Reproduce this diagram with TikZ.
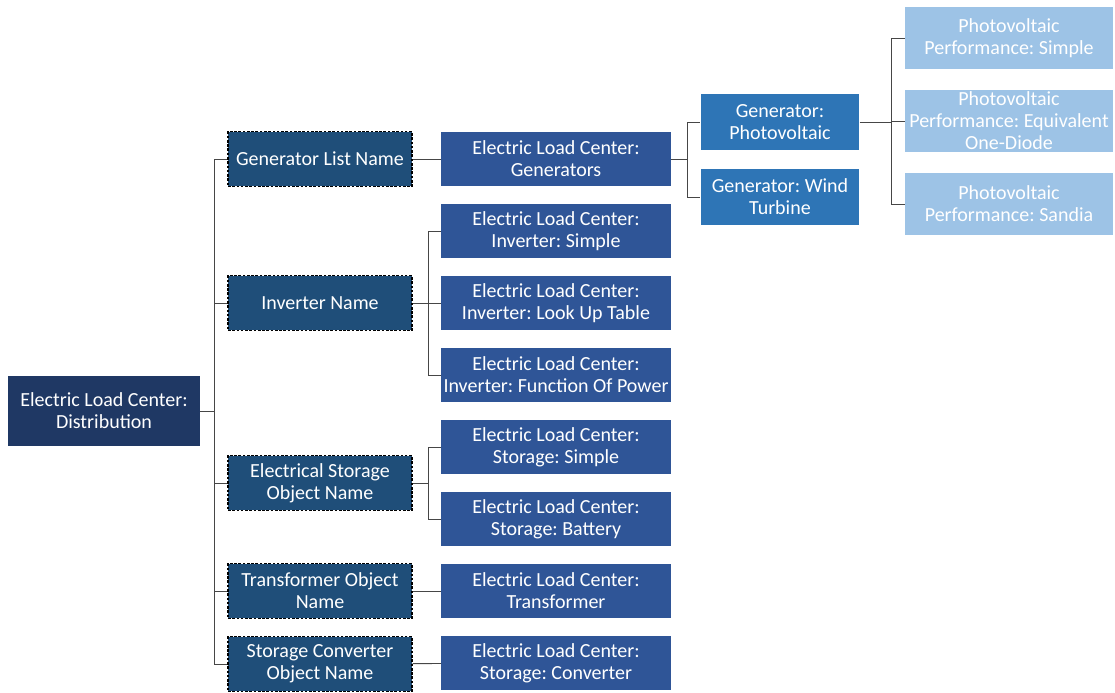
\documentclass[tikz,border=0pt]{standalone}
\usepackage{fontspec}
\setmainfont{Carlito}
\usepackage{xcolor}
\usetikzlibrary{positioning, calc}
\definecolor{rootblue}{RGB}{31,56,100}
\definecolor{keyblue}{RGB}{31,78,121}
\definecolor{objblue}{RGB}{47,85,151}
\definecolor{genblue}{RGB}{46,117,182}
\definecolor{perfblue}{RGB}{157,195,230}
\definecolor{wire}{RGB}{70,70,70}
\tikzset{
    box/.style={rectangle, text centered, align=center, inner xsep=0pt, inner ysep=0pt, text=white, font=\fontsize{15}{16.5}\selectfont\frenchspacing},
    rootbox/.style={box, fill=rootblue, minimum width=144pt, minimum height=53pt},
    keybox/.style={box, fill=keyblue, draw=black, dash pattern=on 2pt off 1.2pt, line width=0.9pt, minimum width=138pt, minimum height=41pt},
    objbox/.style={box, fill=objblue, minimum width=172pt, minimum height=40pt},
    genbox/.style={box, fill=genblue, minimum width=119pt, minimum height=42pt},
    perfbox/.style={box, fill=perfblue, minimum width=156pt, minimum height=47pt},
    link/.style={draw=wire, line width=0.7pt}
}
\begin{document}
\begin{tikzpicture}[x=0.75pt, y=-0.75pt]
    \useasboundingbox (0,0) rectangle (1115,693);
    % Nodes
    \node (dist) [rootbox] at (104,411) {Electric Load Center:\\Distribution};

    \node (genlist) [keybox] at (320,159) {Generator List Name};
    \node (invname) [keybox] at (320,303) {Inverter Name};
    \node (storname) [keybox] at (320,483) {Electrical Storage\\Object Name};
    \node (trafoname) [keybox] at (320,591) {Transformer Object\\Name};
    \node (convname) [keybox] at (320,664) {Storage Converter\\Object Name};

    \node (gens) [objbox] at (556,159) {Electric Load Center:\\Generators};
    \node (invsimple) [objbox] at (556,231) {Electric Load Center:\\Inverter: Simple};
    \node (invtable) [objbox] at (556,303) {Electric Load Center:\\Inverter: Look Up Table};
    \node (invpower) [objbox] at (556,375) {Electric Load Center:\\Inverter: Function Of Power};
    \node (storsimple) [objbox] at (556,447) {Electric Load Center:\\Storage: Simple};
    \node (storbatt) [objbox] at (556,519) {Electric Load Center:\\Storage: Battery};
    \node (trafo) [objbox] at (556,591) {Electric Load Center:\\Transformer};
    \node (conv) [objbox] at (556,663) {Electric Load Center:\\Storage: Converter};

    \node (pv) [genbox] at (780,122) {Generator:\\Photovoltaic};
    \node (wind) [genbox] at (780,197) {Generator: Wind\\Turbine};

    \node (pvsimple) [perfbox] at (1009,38) {Photovoltaic\\Performance: Simple};
    \node (pvdiode) [perfbox] at (1009,121) {Photovoltaic\\Performance: Equivalent\\One-Diode};
    \node (pvsandia) [perfbox] at (1009,204) {Photovoltaic\\Performance: Sandia};

    % Branch points
    \coordinate (trunk) at (214,411);
    \coordinate (invfork) at (428,303);
    \coordinate (storfork) at (428,483);
    \coordinate (genfork) at (687,159);
    \coordinate (pvfork) at (891,122);

    % Connectors
    \draw [link] (dist.east) -- (trunk);
    \foreach \kid in {genlist, invname, storname, trafoname, convname}
        \draw [link] (trunk) |- (\kid.west);
    \draw [link] (genlist) -- (gens);
    \draw [link] (invname.east) -- (invfork);
    \foreach \kid in {invsimple, invtable, invpower}
        \draw [link] (invfork) |- (\kid.west);
    \draw [link] (storname.east) -- (storfork);
    \foreach \kid in {storsimple, storbatt}
        \draw [link] (storfork) |- (\kid.west);
    \draw [link] (trafoname) -- (trafo);
    \draw [link] (convname) -- (conv);
    \draw [link] (gens.east) -- (genfork);
    \foreach \kid in {pv, wind}
        \draw [link] (genfork) |- (\kid.west);
    \draw [link] (pv.east) -- (pvfork);
    \foreach \kid in {pvsimple, pvdiode, pvsandia}
        \draw [link] (pvfork) |- (\kid.west);
\end{tikzpicture}
\end{document}
